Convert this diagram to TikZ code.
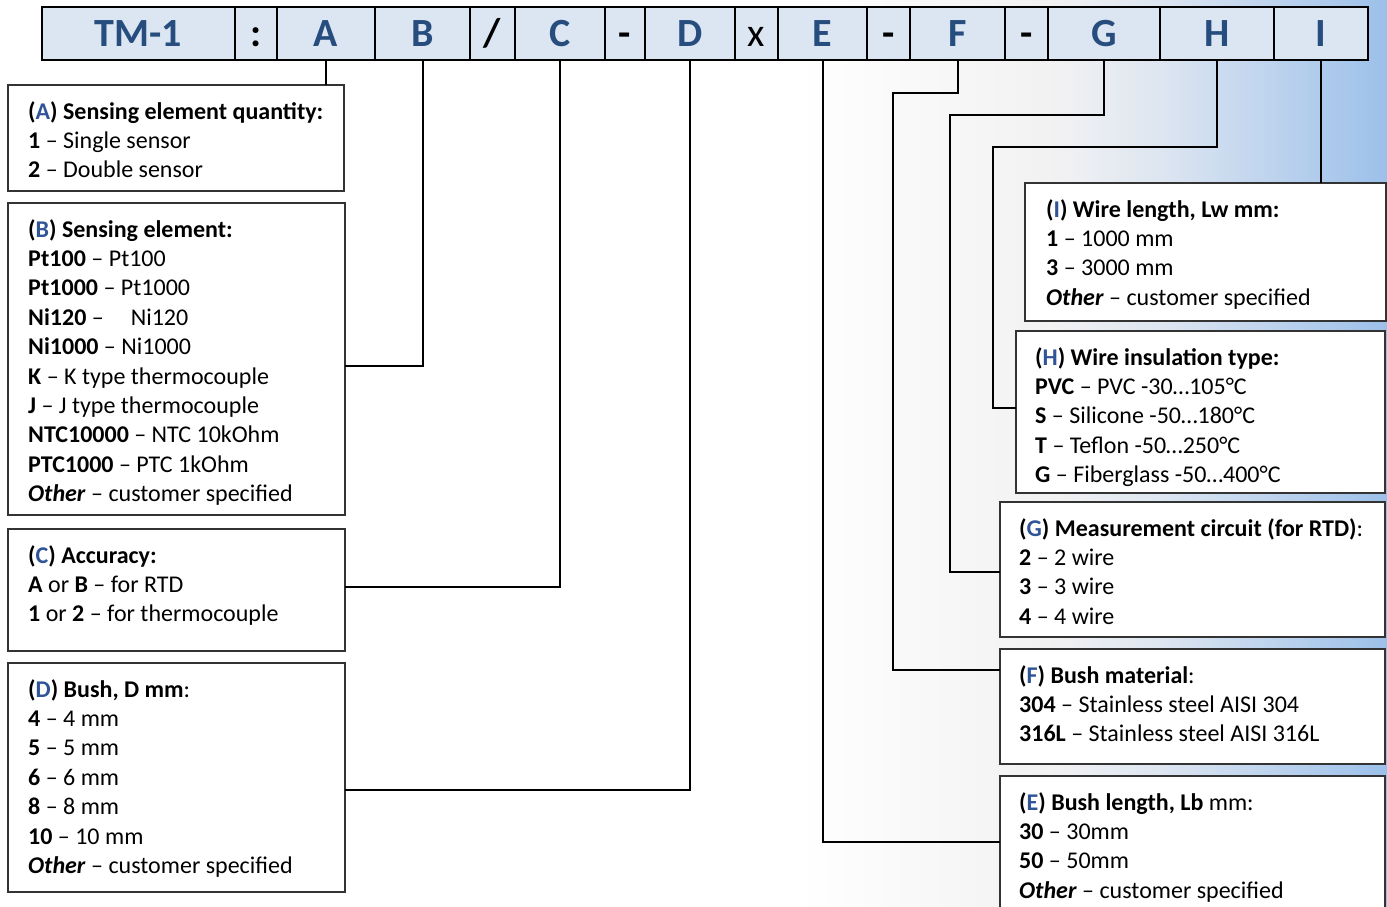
\documentclass[tikz,border=0pt]{standalone}
\usepackage{fontspec}
\setmainfont{Carlito}
\definecolor{hdr}{HTML}{DCE6F2}
\definecolor{hdrtxt}{HTML}{264D7E}
\definecolor{codeblue}{HTML}{2F5597}
\definecolor{edge}{HTML}{333333}
\definecolor{bgA}{HTML}{F1F1F2}
\definecolor{bgB}{HTML}{DCE5F1}
\definecolor{bgC}{HTML}{9CC0EA}
\newcommand{\code}[1]{\textbf{(\textcolor{codeblue}{#1})}}

\begin{document}
\begin{tikzpicture}[x=1pt,y=-1pt,
	cell/.style={draw=black,line width=2.5pt,fill=hdr,minimum height=53pt,inner sep=0pt,outer sep=0pt,text height=27pt,text depth=0pt,font=\fontsize{40}{48}\selectfont\bfseries,text=hdrtxt},
	sepcell/.style={cell,text=black},
	box/.style={draw=edge,line width=1.5pt,fill=white,anchor=north west,inner sep=0pt,outer sep=0pt},
	txt/.style={anchor=north west,inner sep=0pt,align=left,font=\fontsize{24}{29.4}\selectfont},
	wire/.style={line width=2pt,black}]
			\useasboundingbox (0,0) rectangle (1387,907);
			\fill[white] (0,0) rectangle (800,907);
			\shade[left color=white,right color=bgA] (799,0) rectangle (1061,907);
			\shade[left color=bgA,right color=bgB] (1060,0) rectangle (1166,907);
			\shade[left color=bgB,right color=bgC] (1165,0) rectangle (1387,907);

			\node[cell,minimum width=193pt] (hTM) at (138.5,33.5) {TM-1};
			\node[sepcell,minimum width=42pt] (hS1) at (256,33.5) {:};
			\node[cell,minimum width=98pt] (hA) at (326,33.5) {A};
			\node[cell,minimum width=95pt] (hB) at (422.5,33.5) {B};
			\node[sepcell,minimum width=45pt] (hS2) at (492.5,33.5) {/};
			\node[cell,minimum width=90pt] (hC) at (560,33.5) {C};
			\node[sepcell,minimum width=40pt] (hS3) at (625,33.5) {-};
			\node[cell,minimum width=90pt] (hD) at (690,33.5) {D};
			\node[sepcell,minimum width=43pt,font=\fontsize{40}{48}\selectfont] (hS4) at (756.5,33.5) {x};
			\node[cell,minimum width=89pt] (hE) at (822.5,33.5) {E};
			\node[sepcell,minimum width=43pt] (hS5) at (888.5,33.5) {-};
			\node[cell,minimum width=95pt] (hF) at (957.5,33.5) {F};
			\node[sepcell,minimum width=43pt] (hS6) at (1026.5,33.5) {-};
			\node[cell,minimum width=112pt] (hG) at (1104,33.5) {G};
			\node[cell,minimum width=114pt] (hH) at (1217,33.5) {H};
			\node[cell,minimum width=94pt] (hI) at (1321,33.5) {I};

			\node[box,minimum width=336pt,minimum height=106pt] (bxA) at (8,85) {};
			\node[box,minimum width=337pt,minimum height=312pt] (bxB) at (8,203) {};
			\node[box,minimum width=337pt,minimum height=122pt] (bxC) at (8,529) {};
			\node[box,minimum width=337pt,minimum height=229pt] (bxD) at (8,663) {};
			\node[box,minimum width=361pt,minimum height=138pt] (bxI) at (1025,183) {};
			\node[box,minimum width=369pt,minimum height=162pt] (bxH) at (1016,331) {};
			\node[box,minimum width=385pt,minimum height=135pt] (bxG) at (1000,502) {};
			\node[box,minimum width=385pt,minimum height=115pt] (bxF) at (1000,649) {};
			\node[box,minimum width=385pt,minimum height=160pt] (bxE) at (1000,776) {};

			\coordinate (jF) at (893,93);
			\coordinate (jG) at (950,115);
			\coordinate (jH) at (993,147);

			\draw[wire] (hA.south) -- (hA.south |- bxA.north);
			\draw[wire] (hB.south) |- ([yshift=-163pt]bxB.north east);
			\draw[wire] (hC.south) |- ([yshift=-58pt]bxC.north east);
			\draw[wire] (hD.south) |- ([yshift=-127pt]bxD.north east);
			\draw[wire] (hE.south) |- ([yshift=-66pt]bxE.north west);
			\draw[wire] (hF.south) |- (jF) |- ([yshift=-21pt]bxF.north west);
			\draw[wire] (hG.south) |- (jG) |- ([yshift=-70pt]bxG.north west);
			\draw[wire] (hH.south) |- (jH) |- ([yshift=-77pt]bxH.north west);
			\draw[wire] (hI.south) -- (hI.south |- bxI.north);

			\node[txt] (tA) at ([shift={(20,16)}]bxA.north west) {\code{A} \textbf{Sensing element quantity:}\\
				\textbf{1} – Single sensor\\
				\textbf{2} – Double sensor};
			\node[txt] (tB) at ([shift={(20,16)}]bxB.north west) {\code{B} \textbf{Sensing element:}\\
				\textbf{Pt100} – Pt100\\
				\textbf{Pt1000} – Pt1000\\
				\textbf{Ni120} –\hspace{0.9em} Ni120\\
				\textbf{Ni1000} – Ni1000\\
				\textbf{K} – K type thermocouple\\
				\textbf{J} – J type thermocouple\\
				\textbf{NTC10000} – NTC 10kOhm\\
				\textbf{PTC1000} – PTC 1kOhm\\
				\textbf{\textit{Other}} – customer specified};
			\node[txt] (tC) at ([shift={(20,16)}]bxC.north west) {\code{C} \textbf{Accuracy:}\\
				\textbf{A} or \textbf{B} – for RTD\\
				\textbf{1} or \textbf{2} – for thermocouple};
			\node[txt] (tD) at ([shift={(20,16)}]bxD.north west) {\code{D} \textbf{Bush, D mm}:\\
				\textbf{4} – 4 mm\\
				\textbf{5} – 5 mm\\
				\textbf{6} – 6 mm\\
				\textbf{8} – 8 mm\\
				\textbf{10} – 10 mm\\
				\textbf{\textit{Other}} – customer specified};
			\node[txt] (tI) at ([shift={(21,16)}]bxI.north west) {\code{I} \textbf{Wire length, Lw mm:}\\
				\textbf{1} – 1000 mm\\
				\textbf{3} – 3000 mm\\
				\textbf{\textit{Other}} – customer specified};
			\node[txt] (tH) at ([shift={(19,16)}]bxH.north west) {\code{H} \textbf{Wire insulation type:}\\
				\textbf{PVC} – PVC -30…105°C\\
				\textbf{S} – Silicone -50…180°C\\
				\textbf{T} – Teflon -50…250°C\\
				\textbf{G} – Fiberglass -50…400°C};
			\node[txt] (tG) at ([shift={(19,16)}]bxG.north west) {\code{G} \textbf{Measurement circuit (for RTD)}:\\
				\textbf{2} – 2 wire\\
				\textbf{3} – 3 wire\\
				\textbf{4} – 4 wire};
			\node[txt] (tF) at ([shift={(19,16)}]bxF.north west) {\code{F} \textbf{Bush material}:\\
				\textbf{304} – Stainless steel AISI 304\\
				\textbf{316L} – Stainless steel AISI 316L};
			\node[txt] (tE) at ([shift={(19,16)}]bxE.north west) {\code{E} \textbf{Bush length, Lb} mm:\\
				\textbf{30} – 30mm\\
				\textbf{50} – 50mm\\
				\textbf{\textit{Other}} – customer specified};
		\end{tikzpicture}
\end{document}
